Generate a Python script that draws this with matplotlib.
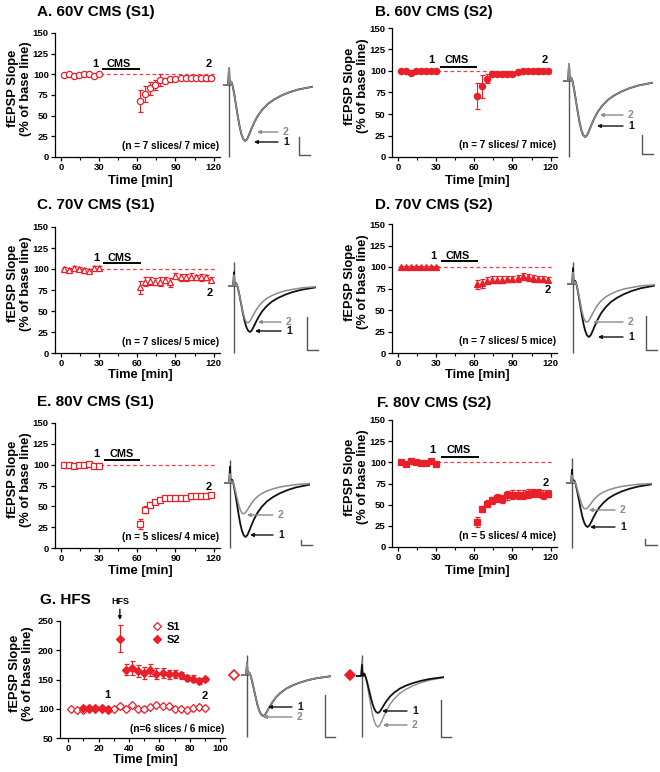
import matplotlib
matplotlib.use('Agg')
import matplotlib.pyplot as plt
from matplotlib.ticker import MultipleLocator
from matplotlib.lines import Line2D

plt.rcParams['font.family'] = ['Liberation Sans', 'DejaVu Sans']
plt.rcParams['font.weight'] = 'bold'
plt.rcParams['axes.labelweight'] = 'bold'

W, H = 660, 772
RED = '#e8202a'

# ---------------- data ----------------
T_BASE = [2, 6, 10, 14, 18, 22, 26, 30]
T_POST = [62, 66, 70, 74, 78, 82, 86, 90, 94, 98, 102, 106, 110, 114, 118]

A_BASE = [99, 100, 98, 99, 101, 100, 98, 100]
A_BASE_ERR = [2, 1, 1, 1, 1, 2, 1, 1]
A_POST = [68, 76, 83, 87, 93, 92, 94, 94, 96, 95, 95, 95, 95, 95, 96]
A_POST_ERR = [13, 10, 8, 6, 7, 3, 3, 2, 2, 2, 2, 2, 3, 3, 2]

B_BASE = [100, 100, 98, 100, 100, 100, 100, 100]
B_BASE_ERR = [1, 1, 1, 1, 1, 1, 1, 2]
B_POST = [71, 82, 91, 97, 97, 97, 96, 96, 99, 100, 100, 100, 100, 100, 100]
B_POST_ERR = [15, 13, 5, 3, 2, 2, 2, 2, 2, 2, 2, 2, 3, 2, 2]

C_BASE = [100, 99, 101, 100, 99, 98, 101, 101]
C_BASE_ERR = [2, 2, 2, 2, 2, 2, 2, 2]
C_POST = [78, 85, 86, 85, 85, 87, 84, 92, 90, 90, 91, 90, 90, 90, 87]
C_POST_ERR = [8, 5, 5, 4, 5, 4, 5, 3, 4, 4, 4, 3, 4, 3, 3]

D_BASE = [100, 100, 100, 100, 100, 100, 100, 100]
D_BASE_ERR = [1, 1, 1, 1, 1, 1, 1, 1]
D_POST = [80, 81, 84, 85, 85, 85, 86, 86, 87, 89, 88, 87, 86, 86, 85]
D_POST_ERR = [5, 5, 4, 4, 4, 4, 4, 4, 4, 4, 4, 4, 4, 4, 3]

E_BASE = [100, 100, 99, 100, 100, 101, 99, 99]
E_BASE_ERR = [1, 1, 1, 1, 1, 1, 1, 1]
E_POST = [29, 46, 52, 55, 58, 60, 60, 60, 60, 60, 63, 63, 62, 63, 64]
E_POST_ERR = [6, 4, 3, 2, 2, 2, 2, 2, 2, 2, 2, 2, 2, 2, 2]

F_BASE = [100, 98, 101, 100, 99, 99, 101, 98]
F_BASE_ERR = [1, 1, 1, 1, 1, 1, 1, 1]
F_POST = [30, 45, 51, 55, 58, 57, 61, 62, 62, 62, 63, 64, 64, 62, 63]
F_POST_ERR = [6, 4, 4, 4, 5, 5, 5, 5, 5, 5, 5, 5, 5, 5, 4]

G_T_S1 = [2, 6, 10, 14, 18, 22, 26, 30, 34, 38, 42, 46, 50, 54, 58, 62, 66, 70, 74, 78, 82, 86, 90]
G_S1 = [99, 98, 98, 100, 100, 100, 100, 100, 104, 99, 106, 99, 99, 103, 107, 105, 104, 100, 100, 98, 101, 103, 101]
G_S1_ERR = [1, 1, 2, 2, 2, 2, 2, 2, 2, 2, 2, 2, 2, 2, 2, 2, 2, 2, 2, 2, 2, 2, 2]
G_T_S2 = [10, 14, 18, 22, 26, 34, 38, 42, 46, 50, 54, 58, 62, 66, 70, 74, 78, 82, 86, 90]
G_S2 = [102, 101, 102, 101, 98, 220, 167, 170, 164, 161, 166, 160, 161, 159, 159, 157, 153, 151, 148, 151]
G_S2_ERR = [3, 3, 3, 3, 3, 23, 10, 12, 10, 10, 10, 9, 8, 8, 7, 6, 5, 6, 5, 4]

CMS_YTICKS = [0, 25, 50, 75, 100, 125, 150]
CMS_XTICKS = [0, 30, 60, 90, 120]
G_XTICKS = [0, 20, 40, 60, 80, 100]
G_YTICKS = [50, 100, 150, 200, 250]

# example fEPSP traces (normalized amplitude vs. relative time)
TR_X = [0, 6, 7, 7.5, 8.5, 9.5, 10.5, 11.5, 13, 15, 17, 19, 21, 23, 25, 27, 29, 32, 35, 39, 44, 50, 57, 65, 74, 84, 100]
TR_DEEP = [0, 0, 0.30, 0.10, 0.0, 0.06, 0.02, -0.05, -0.18, -0.38, -0.58, -0.76, -0.89, -0.97, -1.0, -0.97,
           -0.9, -0.78, -0.67, -0.55, -0.44, -0.34, -0.26, -0.19, -0.13, -0.08, -0.03]
TR_SHALLOW = [0, 0, 0.30, 0.10, 0.0, 0.06, 0.02, -0.06, -0.22, -0.46, -0.7, -0.88, -0.98, -1.0, -0.96, -0.88,
              -0.79, -0.66, -0.55, -0.44, -0.34, -0.26, -0.19, -0.13, -0.09, -0.05, -0.02]
# relative depth of trace 2 vs trace 1 for each panel
DEPTH2 = {'A': 1.0, 'B': 1.0, 'C': 0.8, 'D': 0.72, 'E': 0.57, 'F': 0.59, 'G1': 1.0, 'G2': 1.38}

# ---------------- figure ----------------
fig = plt.figure(figsize=(W / 100, H / 100), dpi=100)


def rect(l, t, r, b):
    return [l / W, 1 - b / H, (r - l) / W, (b - t) / H]


def ftext(x, y, s, **kw):
    fig.text(x / W, 1 - y / H, s, **kw)


ov = fig.add_axes([0, 0, 1, 1], zorder=5)
ov.set_xlim(0, W)
ov.set_ylim(H, 0)
ov.axis('off')

MS = 4.5


def style_axes(ax):
    for s in ['top', 'right']:
        ax.spines[s].set_visible(False)
    for s in ['left', 'bottom']:
        ax.spines[s].set_linewidth(0.9)
    ax.tick_params(which='major', direction='out', length=3, width=0.9, labelsize=6.8, pad=1.5)
    ax.tick_params(which='minor', direction='out', length=1.8, width=0.8)
    for lab in ax.get_xticklabels() + ax.get_yticklabels():
        lab.set_fontweight('bold')


def ylabel(ax, xfrac):
    ax.text(xfrac, 0.55, 'fEPSP Slope\n(% of base line)', rotation=90, ha='center', va='center',
            transform=ax.transAxes, fontsize=9.3, fontweight='bold', linespacing=1.15)


def cms_panel(box, title, title_xy, time_y, base, base_err, post, post_err, marker, filled, ann, ntxt):
    ax = fig.add_axes(rect(*box))
    ax.set_xlim(-4.7, 125)
    ax.set_ylim(0, 150)
    ax.hlines(100, 0, 122, colors=RED, linestyles=(0, (3, 2.2)), linewidth=0.9, alpha=0.85)
    fc = RED if filled else 'white'
    for t, v, e in [(T_BASE, base, base_err), (T_POST, post, post_err)]:
        ax.errorbar(t, v, yerr=e, fmt=marker, color=RED, mfc=fc, mec=RED, ms=MS, mew=0.9,
                    elinewidth=0.8, capsize=1.8, capthick=0.8, clip_on=False, zorder=3)
    ax.set_xticks(CMS_XTICKS)
    ax.set_yticks(CMS_YTICKS)
    ax.xaxis.set_minor_locator(MultipleLocator(15))
    style_axes(ax)
    (t1, y1), (tc, yc), (b0, b1, by), (t2, y2) = ann
    ax.text(t1, y1, '1', ha='center', va='center', fontsize=8, fontweight='bold')
    ax.text(tc, yc, 'CMS', ha='center', va='center', fontsize=7.8, fontweight='bold')
    ax.plot([b0, b1], [by, by], color='black', lw=1.4, solid_capstyle='butt')
    ax.text(t2, y2, '2', ha='center', va='center', fontsize=8, fontweight='bold')
    ax.text(0.995, 0.09, ntxt, ha='right', va='center', transform=ax.transAxes, fontsize=7.2,
            fontweight='bold')
    ylabel(ax, -0.215)
    ftext(title_xy[0], title_xy[1], title, ha='left', va='center', fontsize=11, fontweight='bold')
    ftext((box[0] + box[2]) / 2 + 3, time_y, 'Time [min]', ha='center', va='center', fontsize=9.3,
          fontweight='bold')
    return ax


def trace(key, art_px, base_px, amp, width, art_top, art_bot, shape2, lab2, lab1, bar, black_first=True):
    l = art_px - 0.07 * width
    ax = fig.add_axes(rect(l, base_px - 0.8 * amp, l + width, base_px + 1.8 * amp), zorder=4)
    ax.set_xlim(0, 100)
    ax.set_ylim(-1.8, 0.8)
    ax.axis('off')
    ax.vlines(7, -art_bot, art_top, colors='#555555', lw=1.0)
    y2 = [v * DEPTH2[key] for v in shape2]
    if black_first:
        ax.plot(TR_X, TR_DEEP, color='#111111', lw=1.3)
        ax.plot(TR_X, y2, color='#8a8a8a', lw=1.1)
    else:
        ax.plot(TR_X, y2, color='#8a8a8a', lw=1.0)
        ax.plot(TR_X, TR_DEEP, color='#111111', lw=1.3)
    for (tx, ty, tip), col, s in [(lab2, '#8a8a8a', '2'), (lab1, '#111111', '1')]:
        ov.annotate('', xy=(tip, ty), xytext=(tx - 5, ty),
                    arrowprops=dict(arrowstyle='-|>', color=col, lw=1.0, mutation_scale=5,
                                    shrinkA=0, shrinkB=0))
        ov.text(tx, ty, s, color=col, ha='left', va='center', fontsize=7.5, fontweight='bold')
    bx, by0, by1, bx1 = bar
    ov.plot([bx, bx, bx1], [by0, by1, by1], color='#555555', lw=1.0)


# Panels A-F
cms_panel((55, 33, 220, 157), 'A. 60V CMS (S1)', (37, 12), 181, A_BASE, A_BASE_ERR, A_POST, A_POST_ERR,
          'o', False, ((27, 113), (45, 113), (32, 62, 106), (116, 113)), '(n = 7 slices/ 7 mice)')
cms_panel((392, 28, 557, 157), 'B. 60V CMS (S2)', (375, 12), 181, B_BASE, B_BASE_ERR, B_POST, B_POST_ERR,
          'o', True, ((26, 113), (46, 113), (33, 62, 105), (115, 113)), '(n = 7 slices/ 7 mice)')
cms_panel((55, 227, 220, 353), 'C. 70V CMS (S1)', (37, 205), 375, C_BASE, C_BASE_ERR, C_POST, C_POST_ERR,
          '^', False, ((28, 113), (46, 113), (33, 63, 107), (117, 72)), '(n = 7 slices/ 5 mice)')
cms_panel((392, 224, 557, 353), 'D. 70V CMS (S2)', (375, 205), 375, D_BASE, D_BASE_ERR, D_POST, D_POST_ERR,
          '^', True, ((28, 113), (47, 113), (34, 63, 107), (118, 73)), '(n = 7 slices/ 5 mice)')
cms_panel((55, 423, 220, 548), 'E. 80V CMS (S1)', (37, 402), 571, E_BASE, E_BASE_ERR, E_POST, E_POST_ERR,
          's', False, ((28, 113), (48, 113), (34, 62, 106), (116, 73)), '(n = 5 slices/ 4 mice)')
cms_panel((392, 420, 557, 547), 'F. 80V CMS (S2)', (377, 403), 571, F_BASE, F_BASE_ERR, F_POST, F_POST_ERR,
          's', True, ((27, 115), (48, 115), (34, 64, 106), (116, 76)), '(n = 5 slices/ 4 mice)')

# Panel G
axg = fig.add_axes(rect(60, 621, 225, 738))
axg.set_xlim(-5.3, 103)
axg.set_ylim(50, 250)
axg.errorbar(G_T_S1, G_S1, yerr=G_S1_ERR, fmt='D', color=RED, mfc='white', mec=RED, ms=4.0, mew=0.9,
             elinewidth=0.8, capsize=1.8, capthick=0.8, zorder=3, clip_on=False)
axg.errorbar(G_T_S2, G_S2, yerr=G_S2_ERR, fmt='D', color=RED, mfc=RED, mec=RED, ms=4.0, mew=0.9,
             elinewidth=0.8, capsize=1.8, capthick=0.8, zorder=4, clip_on=False)
axg.set_xticks(G_XTICKS)
axg.set_yticks(G_YTICKS)
axg.xaxis.set_minor_locator(MultipleLocator(10))
style_axes(axg)
axg.annotate('HFS', xy=(34, 252), xytext=(34, 275), ha='center', va='bottom', fontsize=6.5,
             fontweight='bold', annotation_clip=False,
             arrowprops=dict(arrowstyle='-|>', color='black', lw=0.9, mutation_scale=5, shrinkA=0, shrinkB=0))
axg.text(26, 124, '1', ha='center', va='center', fontsize=8, fontweight='bold')
axg.text(89.5, 122, '2', ha='center', va='center', fontsize=8, fontweight='bold')
axg.text(0.995, 0.08, '(n=6 slices / 6 mice)', ha='right', va='center', transform=axg.transAxes,
         fontsize=7.2, fontweight='bold')
hs1 = Line2D([], [], ls='none', marker='D', ms=4.0, mfc='white', mec=RED, mew=0.9)
hs2 = Line2D([], [], ls='none', marker='D', ms=4.0, mfc=RED, mec=RED, mew=0.9)
axg.legend([hs1, hs2], ['S1', 'S2'], loc='upper left', bbox_to_anchor=(0.53, 1.04), frameon=False,
           handlelength=0.8, handletextpad=0.4, labelspacing=0.25, borderpad=0,
           prop={'weight': 'bold', 'size': 8})
ylabel(axg, -0.235)
ftext(40, 600, 'G. HFS', ha='left', va='center', fontsize=11, fontweight='bold')
ftext(145, 760, 'Time [min]', ha='center', va='center', fontsize=9.3, fontweight='bold')

# traces
trace('A', 229, 85, 56, 90, 0.30, 1.29, TR_DEEP, (283, 132, 257), (283, 142, 254), (299, 137, 155, 310),
      black_first=True)
trace('B', 569, 81, 56, 90, 0.29, 1.36, TR_DEEP, (628, 115, 600), (628, 126, 597), (642, 135, 154, 653),
      black_first=True)
trace('C', 234, 286, 46, 88, 0.52, 1.46, TR_SHALLOW, (286, 322, 258), (286, 331, 255), (307, 317, 350, 318))
trace('D', 573, 284, 53, 88, 0.42, 1.30, TR_SHALLOW, (628, 322, 593), (628, 337, 598), (646, 316, 350, 657))
trace('E', 230, 483, 54, 86, 0.43, 1.20, TR_SHALLOW, (278, 515, 247), (278, 535, 250), (301, 540, 545, 312))
trace('F', 572, 483, 44, 86, 0.57, 1.48, TR_SHALLOW, (620, 510, 589), (620, 527, 590), (645, 539, 545, 657))
trace('G1', 247, 675, 41, 90, 0.49, 1.51, TR_DEEP, (297, 717, 263), (297, 707, 268), (325, 695, 737, 335),
      black_first=True)
trace('G2', 362, 676, 37, 88, 0.57, 1.65, TR_DEEP, (412, 725, 383), (412, 711, 382), (441, 700, 737, 451),
      black_first=False)
# symbols identifying S1 / S2 traces
ov.plot([234], [675], ls='none', marker='D', ms=5.5, mfc='white', mec=RED, mew=1.2)
ov.plot([350], [675], ls='none', marker='D', ms=5.5, mfc=RED, mec=RED, mew=1.2)

fig.savefig('out.png', dpi=100)
